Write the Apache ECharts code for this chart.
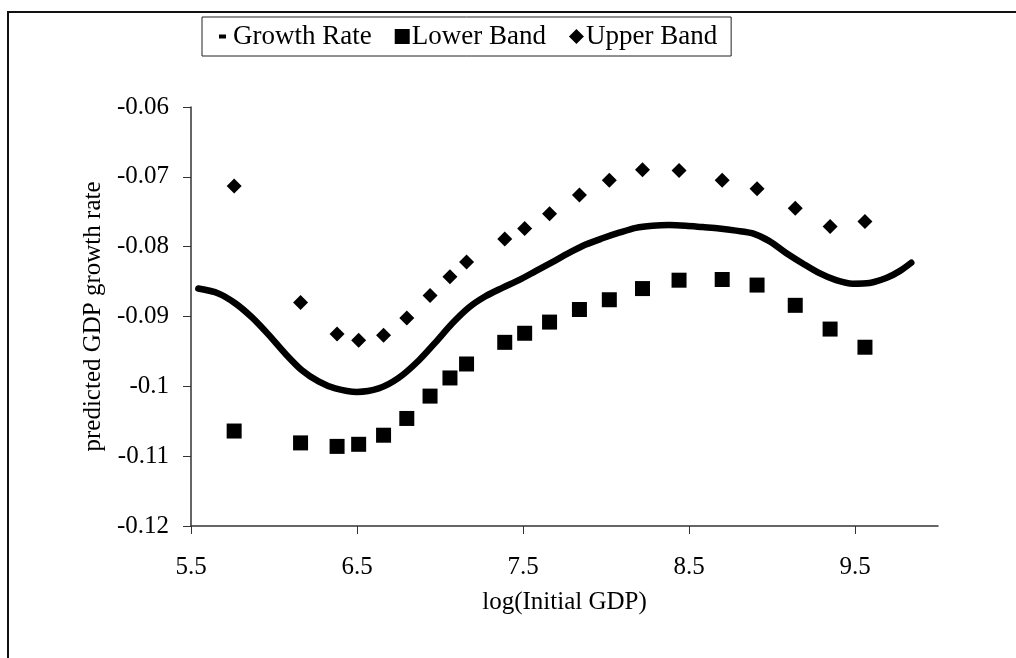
<!DOCTYPE html>
<html>
<head>
<meta charset="utf-8">
<script src="https://cdn.jsdelivr.net/npm/echarts@6/dist/echarts.min.js"></script>
<style>
html,body{margin:0;padding:0;background:#fff;}
#chart{width:1016px;height:658px;}
</style>
</head>
<body>
<div id="chart"></div>
<script>
// ---- data ----
var bandX = [5.76, 6.16, 6.38, 6.51, 6.66, 6.80, 6.94, 7.06, 7.16, 7.39, 7.51, 7.66, 7.84, 8.02, 8.22, 8.44, 8.70, 8.91, 9.14, 9.35, 9.56];
var upperBand = [-0.0713, -0.0880, -0.0925, -0.0934, -0.0927, -0.0902, -0.0870, -0.0843, -0.0822, -0.0789, -0.0774, -0.0753, -0.0726, -0.0705, -0.0690, -0.0691, -0.0705, -0.0717, -0.0745, -0.0771, -0.0764];
var lowerBand = [-0.1064, -0.1081, -0.1086, -0.1083, -0.1070, -0.1046, -0.1014, -0.0988, -0.0968, -0.0937, -0.0924, -0.0908, -0.0890, -0.0876, -0.0860, -0.0848, -0.0847, -0.0855, -0.0884, -0.0918, -0.0944];
var curveX = [5.544, 5.665, 5.766, 5.866, 5.967, 6.067, 6.168, 6.268, 6.369, 6.500, 6.631, 6.751, 6.872, 6.973, 7.073, 7.174, 7.274, 7.375, 7.475, 7.576, 7.677, 7.777, 7.878, 7.979, 8.079, 8.180, 8.280, 8.381, 8.481, 8.582, 8.682, 8.783, 8.884, 8.984, 9.085, 9.185, 9.286, 9.386, 9.487, 9.588, 9.688, 9.769, 9.839];
var growthRate = [-0.0860, -0.0867, -0.0881, -0.0901, -0.0926, -0.0953, -0.0977, -0.0993, -0.1003, -0.1008, -0.1003, -0.0988, -0.0963, -0.0937, -0.0910, -0.0887, -0.0871, -0.0859, -0.0848, -0.0835, -0.0822, -0.0809, -0.0797, -0.0788, -0.0780, -0.0773, -0.0770, -0.0769, -0.0770, -0.0772, -0.0774, -0.0777, -0.0781, -0.0792, -0.0809, -0.0824, -0.0838, -0.0848, -0.0853, -0.0852, -0.0845, -0.0835, -0.0823];
var xTicks = [5.5, 6.5, 7.5, 8.5, 9.5];
var yTicks = [-0.12, -0.11, -0.10, -0.09, -0.08, -0.07, -0.06];

function pairs(xs, ys) { return xs.map(function (x, i) { return [x, ys[i]]; }); }

var FONT = 'Liberation Serif';
var chart = echarts.init(document.getElementById('chart'), null, {renderer: 'canvas'});
var dashIcon = 'path://M0,0h0.05v0.05h-0.05zM14.95,14.95h0.05v0.05h-0.05zM3,5.5h7v4h-7z';
var squareIcon = 'path://M0,0h15v15h-15z';
var diamondIcon = 'path://M7.5,0L15,7.5L7.5,15L0,7.5z';

chart.setOption({
  animation: false,
  backgroundColor: '#fff',
  graphic: [{
    type: 'polyline',
    shape: {points: [[8, 658], [8, 12], [1016, 12]]},
    style: {stroke: '#111', lineWidth: 2, fill: null},
    silent: true
  }],
  grid: {left: 191, top: 107, right: 78, bottom: 132, containLabel: false},
  legend: {
    left: 202, top: 17,
    orient: 'horizontal',
    padding: [6, 14, 6, 14],
    itemGap: 23,
    itemWidth: 15, itemHeight: 15,
    borderColor: '#222', borderWidth: 1, borderRadius: 0,
    textStyle: {fontFamily: FONT, fontSize: 27, color: '#000', padding: [0, 0, 0, -3]},
    data: [
      {name: 'Growth Rate', icon: dashIcon, itemStyle: {color: '#000', opacity: 1}},
      {name: 'Lower Band', icon: squareIcon, itemStyle: {color: '#000', opacity: 1}},
      {name: 'Upper Band', icon: diamondIcon, itemStyle: {color: '#000', opacity: 1}}
    ]
  },
  xAxis: {
    type: 'value', min: 5.5, max: 10,
    name: 'log(Initial GDP)', nameLocation: 'middle', nameGap: 64,
    nameTextStyle: {fontFamily: FONT, fontSize: 25, color: '#000'},
    axisLine: {show: true, onZero: false, lineStyle: {color: '#333', width: 1.5}},
    axisTick: {show: true, length: 8, lineStyle: {color: '#333', width: 1}, customValues: xTicks},
    axisLabel: {fontFamily: FONT, fontSize: 25, color: '#000', margin: 29, customValues: xTicks,
      formatter: function (v) { return v.toFixed(1); }},
    splitLine: {show: false}
  },
  yAxis: {
    type: 'value', min: -0.12, max: -0.06,
    name: 'predicted GDP growth rate', nameLocation: 'middle', nameGap: 71, nameRotate: 90,
    nameTextStyle: {fontFamily: FONT, fontSize: 25, color: '#000'},
    axisLine: {show: true, onZero: false, lineStyle: {color: '#333', width: 1.5}},
    axisTick: {show: true, length: 8, lineStyle: {color: '#333', width: 1}, customValues: yTicks},
    axisLabel: {fontFamily: FONT, fontSize: 25, color: '#000', margin: 22, customValues: yTicks,
      formatter: function (v) { return String(+v.toFixed(2)); }},
    splitLine: {show: false}
  },
  series: [
    {
      name: 'Growth Rate', type: 'line', data: pairs(curveX, growthRate),
      smooth: 0.3, showSymbol: false, symbol: 'none',
      lineStyle: {color: '#000', width: 6.5, cap: 'round', join: 'round', opacity: 1},
      itemStyle: {color: '#000'}, z: 3
    },
    {
      name: 'Lower Band', type: 'scatter', data: pairs(bandX, lowerBand),
      symbol: 'rect', symbolSize: 15, itemStyle: {color: '#000', opacity: 1}
    },
    {
      name: 'Upper Band', type: 'scatter', data: pairs(bandX, upperBand),
      symbol: 'diamond', symbolSize: 15, itemStyle: {color: '#000', opacity: 1}
    }
  ]
});
</script>
</body>
</html>
